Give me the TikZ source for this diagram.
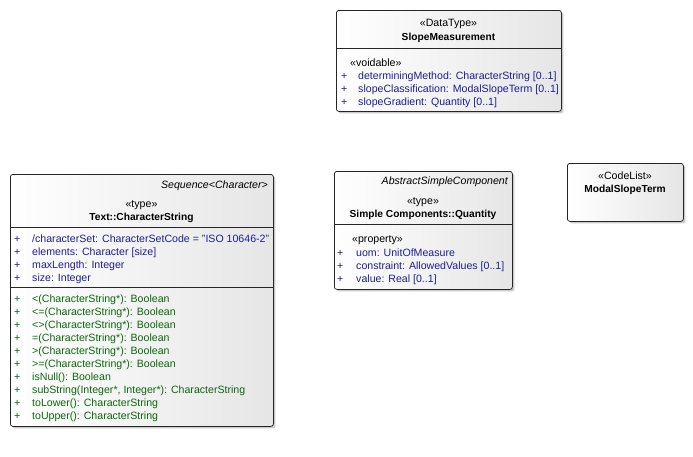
\documentclass[tikz,border=0pt]{standalone}
\usepackage{fontspec}
\setmainfont{Liberation Sans}
\usetikzlibrary{shadows}
\definecolor{attrblue}{RGB}{30,30,150}
\definecolor{opgreen}{RGB}{10,105,10}
\tikzset{
  umlbox/.style={draw=black!85, line width=0.75pt, rounded corners=2.5pt, anchor=north west,
    left color=white, right color=black!10, inner sep=0pt,
    drop shadow={shadow xshift=2pt, shadow yshift=-2pt, fill=black!35, opacity=0.6}},
  txt/.style={inner sep=0pt, font=\fontsize{10.6}{12}\selectfont},
  attr/.style={txt, anchor=base west, text=attrblue},
  op/.style={txt, anchor=base west, text=opgreen},
  stereo/.style={txt, anchor=base},
  cname/.style={txt, anchor=base, font=\fontsize{10.2}{12}\selectfont\bfseries},
  divider/.style={draw=black!85, line width=0.75pt}
}
\begin{document}
\begin{tikzpicture}[x=1pt,y=-1pt]
\useasboundingbox (0,0) rectangle (693,456);

% ---------- SlopeMeasurement ----------
\node[umlbox, minimum width=225pt, minimum height=101pt] (sm) at (336,10) {};
\draw[divider] (sm.west |- 0,48) -- (sm.east |- 0,48);
\node[stereo] (smst) at (448.5,26) {«DataType»};
\node[cname] (smn) at (448.5,40) {SlopeMeasurement};
\node[txt, anchor=base west] (smv) at (350,66) {«voidable»};
\node[attr] (smp1) at (341,79) {+};
\node[attr] (sma1) at (358,79) {determiningMethod: CharacterString [0..1]};
\node[attr] (smp2) at (341,92) {+};
\node[attr] (sma2) at (358,92) {slopeClassification: ModalSlopeTerm [0..1]};
\node[attr] (smp3) at (341,105) {+};
\node[attr] (sma3) at (358,105) {slopeGradient: Quantity [0..1]};

% ---------- Text::CharacterString ----------
\node[umlbox, minimum width=263pt, minimum height=252pt] (cs) at (10,174) {};
\draw[divider] (cs.west |- 0,227) -- (cs.east |- 0,227);
\draw[divider] (cs.west |- 0,287) -- (cs.east |- 0,287);
\node[txt, anchor=base east, font=\fontsize{10.6}{12}\selectfont\itshape] (csq) at (268,188) {Sequence<Character>};
\node[stereo] (csst) at (141.5,207) {«type»};
\node[cname] (csn) at (141.5,220) {Text::CharacterString};
\foreach \t [count=\i] in {{/characterSet: CharacterSetCode = "ISO 10646-2"},{elements: Character [size]},{maxLength: Integer},{size: Integer}}{
  \node[attr] (csp\i) at (14,229+13*\i) {+};
  \node[attr] (csa\i) at (32,229+13*\i) {\t};
}
\foreach \t [count=\i] in {{<(CharacterString*): Boolean},{<=(CharacterString*): Boolean},{<>(CharacterString*): Boolean},{=(CharacterString*): Boolean},{>(CharacterString*): Boolean},{>=(CharacterString*): Boolean},{isNull(): Boolean},{subString(Integer*, Integer*): CharacterString},{toLower(): CharacterString},{toUpper(): CharacterString}}{
  \node[op] (csop\i) at (14,289+13*\i) {+};
  \node[op] (cso\i) at (32,289+13*\i) {\t};
}

% ---------- Simple Components::Quantity ----------
\node[umlbox, minimum width=178pt, minimum height=118pt] (q) at (334,171) {};
\draw[divider] (q.west |- 0,224) -- (q.east |- 0,224);
\node[txt, anchor=base east, font=\fontsize{10.6}{12}\selectfont\itshape] (qa) at (508,184) {AbstractSimpleComponent};
\node[stereo] (qst) at (423,204) {«type»};
\node[cname] (qn) at (423,217) {Simple Components::Quantity};
\node[txt, anchor=base west] (qprop) at (352,242) {«property»};
\node[attr] (qp1) at (337,256) {+};
\node[attr] (qa1) at (356,256) {uom: UnitOfMeasure};
\node[attr] (qp2) at (337,269) {+};
\node[attr] (qa2) at (356,269) {constraint: AllowedValues [0..1]};
\node[attr] (qp3) at (337,282) {+};
\node[attr] (qa3) at (356,282) {value: Real [0..1]};

% ---------- ModalSlopeTerm ----------
\node[umlbox, minimum width=116pt, minimum height=58pt] (mst) at (567,163) {};
\node[stereo] (mstst) at (625,179) {«CodeList»};
\node[cname] (mstn) at (625,192) {ModalSlopeTerm};
\end{tikzpicture}
\end{document}
